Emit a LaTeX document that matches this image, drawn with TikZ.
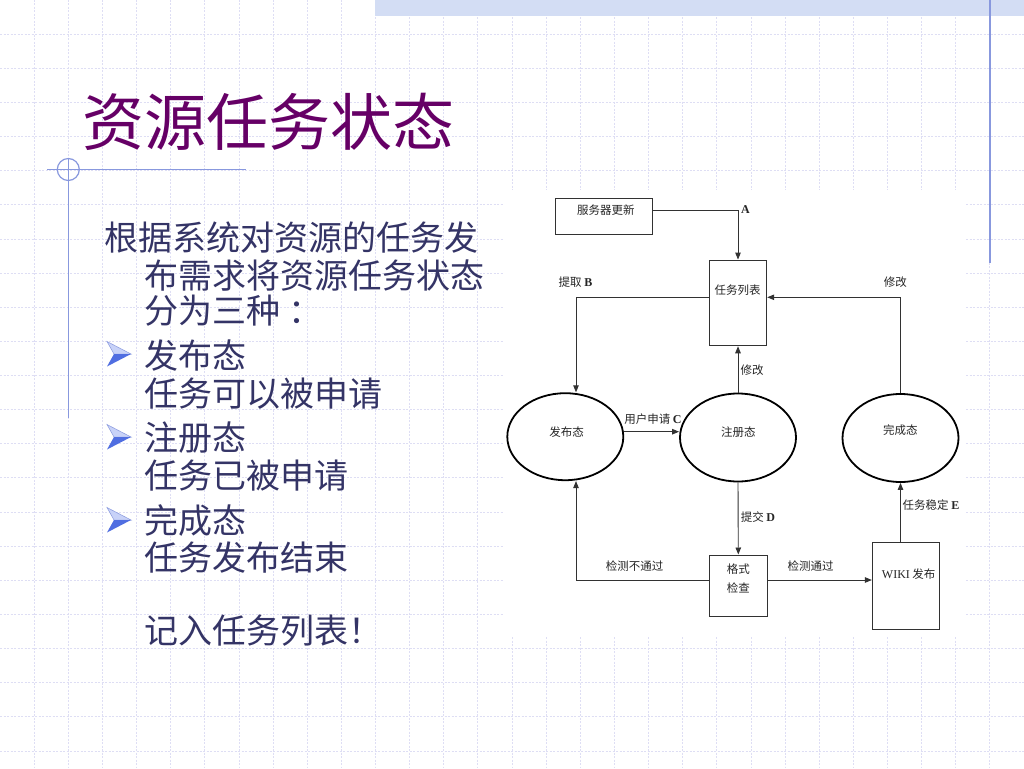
\documentclass[tikz,border=0pt]{standalone}
\usepackage{fontspec}
\setmainfont{Liberation Serif}
\newfontfamily\cjk{Noto Sans CJK SC}
\usetikzlibrary{arrows.meta,shapes.geometric}
\definecolor{gridcol}{RGB}{222,222,244}
\definecolor{bannercol}{RGB}{211,221,244}
\definecolor{decocol}{RGB}{136,152,222}
\definecolor{titlecol}{RGB}{102,0,102}
\definecolor{bodycol}{RGB}{52,52,102}
\definecolor{linecol}{RGB}{50,50,50}
\definecolor{bulletdark}{RGB}{80,110,225}
\definecolor{bulletlight}{RGB}{200,210,248}
\newcommand{\ltrf}{\rmfamily\bfseries\fontsize{12}{13}\selectfont}
\tikzset{
  gridline/.style={draw=gridcol, line width=0.8pt, dash pattern=on 2pt off 1.5pt},
  decoline/.style={draw=decocol, line width=1.2pt},
  titletext/.style={inner sep=0pt, anchor=base west, text=titlecol, font=\cjk\fontsize{62}{62}\selectfont},
  bodytext/.style={inner sep=0pt, anchor=base west, text=bodycol, font=\cjk\fontsize{34}{34}\selectfont},
  boxn/.style={draw=linecol, line width=1pt, rectangle, inner sep=0pt, fill=white},
  elln/.style={draw=black, line width=1.8pt, ellipse, inner sep=0pt, fill=white},
  lbl/.style={inner sep=0pt, anchor=center, text=black!85, font=\cjk\fontsize{11.5}{13}\selectfont},
  conn/.style={draw=linecol, line width=0.9pt},
  arr/.style={conn, -{Triangle[length=7pt,width=5.5pt]}},
}
\newcommand{\mybullet}[2]{%
  \fill[bulletlight, draw=decocol, line width=0.5pt] (#1,#2-12.5) -- (#1+24,#2) -- (#1+7,#2) -- cycle;
  \fill[bulletdark] (#1+7,#2) -- (#1+24,#2) -- (#1,#2+12.5) -- cycle;
}
\begin{document}
\begin{tikzpicture}[x=1pt,y=-1pt]
\useasboundingbox (0,0) rectangle (1024,768);
\fill[white] (0,0) rectangle (1024,768);
% background grid
\foreach \k in {1,...,29} \draw[gridline] (\k*34.133,0) -- (\k*34.133,768);
\foreach \k in {1,...,22} \draw[gridline] (0,\k*34.133) -- (1024,\k*34.133);
% banner and decorative lines
\fill[bannercol] (375,0) rectangle (1024,16);
\draw[decoline] (990,0) -- (990,263);
\draw[decoline] (47,169.5) -- (246,169.5);
\draw[decoline] (68.3,169.5) circle (11pt);
\draw[decoline] (68.3,158.5) -- (68.3,418);
% title
\node[titletext] (title) at (82,145.5) {资源任务状态};
% body text
\node[bodytext] (t1) at (104,250) {根据系统对资源的任务发};
\node[bodytext] (t2) at (144,288) {布需求将资源任务状态};
\node[bodytext] (t3) at (144,323) {分为三种\hspace{8pt}：};
\node[bodytext] (t4) at (144,368) {发布态};
\node[bodytext] (t5) at (144,406) {任务可以被申请};
\node[bodytext] (t6) at (144,450) {注册态};
\node[bodytext] (t7) at (144,488) {任务已被申请};
\node[bodytext] (t8) at (144,533) {完成态};
\node[bodytext] (t9) at (144,570) {任务发布结束};
\node[bodytext] (t10) at (144,643) {记入任务列表！};
\mybullet{107}{354}
\mybullet{107}{437}
\mybullet{107}{520}
% diagram background
\fill[white] (503,190) rectangle (966,636);
% boxes
\node[boxn, minimum width=96.6pt, minimum height=36.7pt] (srv) at (604,216.6) {};
\node[boxn, minimum width=57.4pt, minimum height=85.7pt] (tl) at (738,302.9) {};
\node[boxn, minimum width=58pt, minimum height=61pt] (chk) at (738.3,585.5) {};
\node[boxn, minimum width=66.7pt, minimum height=87.3pt] (wiki) at (905.7,586.3) {};
% ellipses
\node[elln, minimum width=116pt, minimum height=87pt] (pub) at (565.3,436.7) {};
\node[elln, minimum width=116pt, minimum height=88pt] (reg) at (738,437.5) {};
\node[elln, minimum width=116pt, minimum height=88pt] (done) at (900.5,438) {};
% node texts
\node[lbl] (srvt) at (605.8,210) {服务器更新};
\node[lbl] (tlt) at (737.5,290) {任务列表};
\node[lbl, align=center, font=\cjk\fontsize{11.5}{19}\selectfont] (chkt) at (738.3,579) {格式\\检查};
\node[lbl] (wikit) at (908.7,574) {{\rmfamily\fontsize{12}{13}\selectfont WIKI} 发布};
\node[lbl] (pubt) at (566.7,431.7) {发布态};
\node[lbl] (regt) at (738.3,431.7) {注册态};
\node[lbl] (donet) at (900.3,430.5) {完成态};
% connectors
\draw[arr] ([yshift=5.9pt]srv.east) -| (tl.north);
\draw[arr] ([yshift=5.6pt]tl.west) -| ([xshift=10.7pt]pub.north);
\draw[arr] (reg.north) -- (tl.south);
\draw[arr] ([yshift=5pt]pub.east) -- ([yshift=5pt]pub.east -| reg.west);
\draw[arr] (reg.south) -- (chk.north);
\draw[arr] ([yshift=5.5pt]chk.west) -| ([xshift=10.7pt]pub.south);
\draw[arr] ([yshift=5.5pt]chk.east) -- ([yshift=5.5pt]chk.east -| wiki.west);
\draw[arr] (done.south |- wiki.north) -- (done.south);
\draw[arr] (done.north) |- ([yshift=5.6pt]tl.east);
% connector labels
\node[lbl, anchor=west] (la) at (741,210) {\ltrf A};
\node[lbl] (lb) at (575.5,282) {提取 {\ltrf B}};
\node[lbl] (lm1) at (752,370) {修改};
\node[lbl] (lm2) at (895.3,282) {修改};
\node[lbl] (lc) at (653,419) {用户申请 {\ltrf C}};
\node[lbl] (ld) at (758,516.7) {提交 {\ltrf D}};
\node[lbl] (lf) at (634.5,566) {检测不通过};
\node[lbl] (lp) at (810.5,566) {检测通过};
\node[lbl] (le) at (931,505) {任务稳定 {\ltrf E}};
\end{tikzpicture}
\end{document}
